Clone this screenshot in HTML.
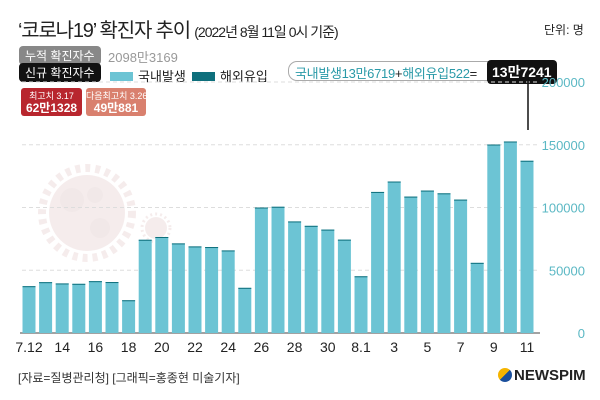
<!DOCTYPE html>
<html><head><meta charset="utf-8"><style>
body{margin:0;width:600px;height:400px;background:#fff;overflow:hidden;position:relative;font-family:"Liberation Sans","Noto Sans CJK KR",sans-serif}
.a{position:absolute;white-space:nowrap}
</style></head><body>
<div class="a" style="left:18px;top:14px;font-size:20px;color:#222;letter-spacing:-1.2px">‘코로나19’ 확진자 추이 <span style="font-size:14px;letter-spacing:-1px">(2022년 8월 11일 0시 기준)</span></div>
<div class="a" style="left:544px;top:21px;font-size:12px;color:#222">단위: 명</div>
<div class="a" style="left:19px;top:46px;background:#888;color:#fff;font-size:12px;padding:1px 6px;border-radius:4px">누적 확진자수</div>
<div class="a" style="left:108px;top:47px;font-size:13px;color:#999">2098만3169</div>
<div class="a" style="left:19px;top:63px;background:#111;color:#fff;font-size:12px;padding:1px 6px;border-radius:4px">신규 확진자수</div>
<div class="a" style="left:110px;top:66px;font-size:13px;color:#222"><span style="display:inline-block;width:23px;height:9px;background:#6cc4d4;margin-right:5px"></span>국내발생</div>
<div class="a" style="left:192px;top:66px;font-size:13px;color:#222"><span style="display:inline-block;width:23px;height:9px;background:#0e6f7c;margin-right:5px"></span>해외유입</div>
<div class="a" style="left:288px;top:61px;border:1px solid #aaa;border-radius:9px;padding:1px 6px;font-size:13px;color:#2a9aa8;height:16px;width:230px;letter-spacing:-0.3px">국내발생13만6719<span style="color:#222">+</span>해외유입522<span style="color:#222">=</span></div>
<div class="a" style="left:487px;top:60px;background:#111;color:#fff;font-size:14px;font-weight:bold;padding:2px 5px;border-radius:4px">13만7241</div>
<div class="a" style="left:21px;top:88px;width:61px;height:28px;background:#b8262e;color:#fff;border-radius:3px;text-align:center;font-size:9px;line-height:12px;padding-top:2px;box-sizing:border-box">최고치 3.17<br><b style="font-size:12px">62만1328</b></div>
<div class="a" style="left:86px;top:88px;width:60px;height:28px;background:#d9806e;color:#fff;border-radius:3px;text-align:center;font-size:9px;line-height:12px;padding-top:2px;box-sizing:border-box">다음최고치 3.26<br><b style="font-size:12px">49만881</b></div>
<svg class="a" style="left:0;top:0" width="600" height="400">
<g opacity="0.13">
<circle cx="87" cy="213" r="38" fill="#b77"/><circle cx="87" cy="213" r="45" fill="none" stroke="#b77" stroke-width="8" stroke-dasharray="5 5"/>
<circle cx="72" cy="200" r="12" fill="#955"/><circle cx="100" cy="228" r="10" fill="#955"/><circle cx="95" cy="195" r="8" fill="#955"/>
<circle cx="156" cy="228" r="11" fill="#b77"/><circle cx="156" cy="228" r="14" fill="none" stroke="#b77" stroke-width="3" stroke-dasharray="2 3"/>
</g>
<g id="grid"></g><g id="bars"></g><g id="xl"></g><g id="yl"></g>
<line x1="528" y1="73" x2="528" y2="130" stroke="#111" stroke-width="1.5"/>
</svg>
<div class="a" style="left:18px;top:369px;font-size:12px;color:#333">[자료=질병관리청] [그래픽=홍종현 미술기자]</div>
<div class="a" style="left:498px;top:367px;font-size:15px;font-weight:bold;color:#222"><span style="display:inline-block;width:14px;height:14px;border-radius:50%;background:linear-gradient(135deg,#f5b400 50%,#1a4f9c 50%);vertical-align:-2px;margin-right:2px"></span>NEWSPIM</div>
<script>
const categories=["7.12","13","14","15","16","17","18","19","20","21","22","23","24","25","26","27","28","29","30","31","8.1","2","3","4","5","6","7","8","9","10","11"];
const domestic=[37000,40200,39200,38900,41000,40300,25800,74000,76200,71100,68700,68200,65500,35700,99600,100200,88500,85000,82000,74000,44800,111900,120200,108200,113000,110800,105800,55400,149700,152100,136719];
const overseas=[300,300,300,300,300,300,300,300,300,300,300,300,300,300,400,400,400,400,400,400,400,500,500,500,500,500,500,500,500,500,522];
const yTicks=[0,50000,100000,150000,200000];
const labelIdx=[0,2,4,6,8,10,12,14,16,18,20,22,24,26,28,30];
const NS="http://www.w3.org/2000/svg";
const y=v=>333-v*(251/200000);
const x=i=>29+i*16.6;
function mk(t,a,p){const e=document.createElementNS(NS,t);for(const k in a)e.setAttribute(k,a[k]);document.getElementById(p).appendChild(e);return e;}
yTicks.forEach(t=>{
 if(t>0){const g=mk('line',{x1:22,x2:540,y1:y(t),y2:y(t),stroke:'#ddd','stroke-dasharray':'4 3'},'grid');
 
 }
 const l=mk('text',{x:585,y:y(t)+5,'text-anchor':'end','font-size':13,fill:'#5bb8c4','font-family':'Liberation Sans, sans-serif'},'yl');
 l.textContent=t;
 
 
});
const ax=mk('line',{x1:20,x2:540,y1:333,y2:333,stroke:'#444'},'grid');


categories.forEach((c,i)=>{
 const b=mk('rect',{x:x(i)-6.5,y:y(domestic[i]+overseas[i]),width:13,height:y(0)-y(domestic[i]+overseas[i]),fill:'#6cc4d4'},'bars');
 
 
 const o=mk('rect',{x:x(i)-6.5,y:y(domestic[i]+overseas[i]),width:13,height:Math.max(1,y(domestic[i])-y(domestic[i]+overseas[i])),fill:'#0e6f7c'},'bars');
 
 
});
labelIdx.forEach(i=>{
 const t=mk('text',{x:x(i),y:352,'text-anchor':'middle','font-size':14,fill:'#222','font-family':'Liberation Sans, sans-serif'},'xl');
 t.textContent=categories[i];
 
 
});
</script>
</body></html>
